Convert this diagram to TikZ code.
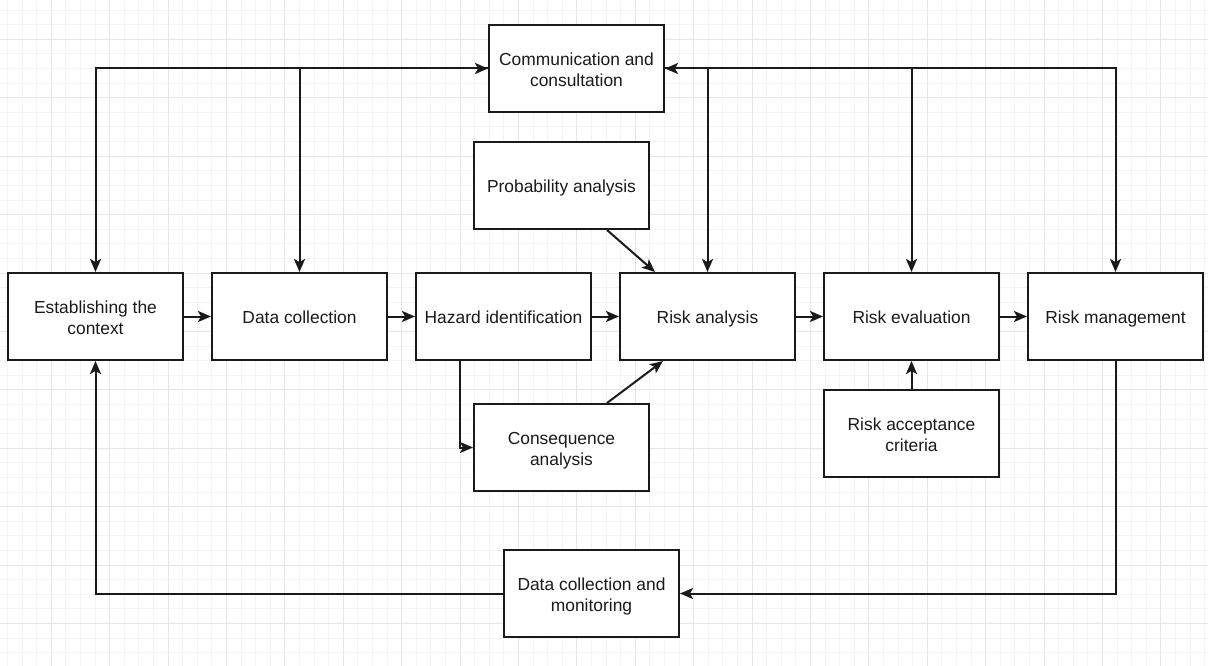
\documentclass[tikz,border=0pt]{standalone}
\usepackage{fontspec}
\setmainfont{Liberation Sans}
\usetikzlibrary{arrows.meta,calc}
\definecolor{gridminor}{HTML}{F4F4F4}
\definecolor{gridmajor}{HTML}{E6E6E6}
\definecolor{ink}{HTML}{1A1A1A}
\begin{document}
\begin{tikzpicture}[x=1pt,y=-1pt,
  box/.style={draw=ink, line width=2pt, fill=white, minimum width=175pt, minimum height=87pt, inner sep=0pt},
  txt/.style={align=center, inner sep=0pt, font=\fontsize{17.4}{20.5}\selectfont, text=ink, yshift=-3.3pt},
  conn/.style={line width=2pt, draw=ink, -{Stealth[length=13pt,width=11pt,inset=3pt]}},
  biconn/.style={line width=2pt, draw=ink, {Stealth[length=13pt,width=11pt,inset=3pt]}-{Stealth[length=13pt,width=11pt,inset=3pt]}}]
\useasboundingbox (0,0) rectangle (1208,666);
\fill[white] (0,0) rectangle (1208,666);
% grid
\foreach \i in {0,...,82} \draw[gridminor, line width=0.8pt] ({7.3+14.6*\i},0) -- ++(0,666);
\foreach \j in {0,...,45} \draw[gridminor, line width=0.8pt] (0,{10.1+14.6*\j}) -- ++(1208,0);
\foreach \i in {0,...,20} \draw[gridmajor, line width=0.8pt] ({51.1+58.4*\i},0) -- ++(0,666);
\foreach \j in {0,...,11} \draw[gridmajor, line width=0.8pt] (0,{39.3+58.4*\j}) -- ++(1208,0);
% nodes
\node[box, label={[txt]center:{\strut Establishing the\\\strut context}}] (est) at (95.5,316.5) {};
\node[box, label={[txt]center:{\strut Data collection}}] (dc) at (299.5,316.5) {};
\node[box, label={[txt]center:{\strut Hazard identification}}] (hi) at (503.5,316.5) {};
\node[box, label={[txt]center:{\strut Risk analysis}}] (ra) at (707.5,316.5) {};
\node[box, label={[txt]center:{\strut Risk evaluation}}] (re) at (911.5,316.5) {};
\node[box, label={[txt]center:{\strut Risk management}}] (rm) at (1115.5,316.5) {};
\node[box, label={[txt]center:{\strut Communication and\\\strut consultation}}] (comm) at (576.5,68.5) {};
\node[box, label={[txt]center:{\strut Probability analysis}}] (pa) at (561.5,185.5) {};
\node[box, label={[txt]center:{\strut Consequence\\\strut analysis}}] (ca) at (561.5,447.5) {};
\node[box, label={[txt]center:{\strut Risk acceptance\\\strut criteria}}] (rac) at (911.5,433.5) {};
\node[box, label={[txt]center:{\strut Data collection and\\\strut monitoring}}] (dcm) at (591.5,593.5) {};
% main chain
\draw[conn] (est.east) -- (dc.west);
\draw[conn] (dc.east) -- (hi.west);
\draw[conn] (hi.east) -- (ra.west);
\draw[conn] (ra.east) -- (re.west);
\draw[conn] (re.east) -- (rm.west);
% communication
\draw[biconn] (est.north) |- (comm.west);
\draw[conn] (comm.west) -| (dc.north);
\draw[biconn] (rm.north) |- (comm.east);
\draw[conn] (comm.east) -| (ra.north);
\draw[conn] (comm.east) -| (re.north);
% analysis inputs
\draw[conn] ($(pa.south)+(45.5,0)$) -- ($(ra.north)+(-52.5,0)$);
\draw[conn] ($(ca.north)+(45.5,0)$) -- ($(ra.south)+(-44.5,0)$);
\draw[conn] ($(hi.south)+(-43.5,0)$) |- (ca.west);
\draw[conn] (rac.north) -- (re.south);
% feedback loop
\draw[conn] (rm.south) |- (dcm.east);
\draw[conn] (dcm.west) -| (est.south);
\end{tikzpicture}
\end{document}
